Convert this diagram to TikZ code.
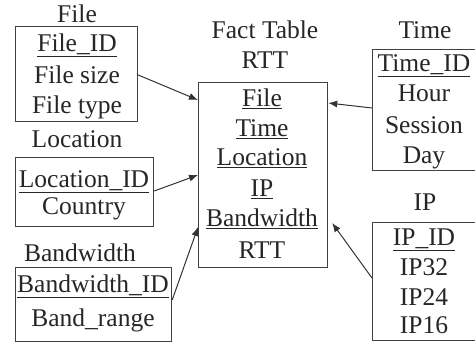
\documentclass[tikz,border=0pt]{standalone}
\usepackage{fontspec}
\setmainfont{Liberation Serif}
\usetikzlibrary{arrows.meta,calc}
\begin{document}
\begin{tikzpicture}[x=1pt,y=-1pt,
  txt/.style={font=\fontsize{25.5}{30}\selectfont, inner sep=0pt, text height=19pt, text depth=2pt, text=black!85},
  tbl/.style={draw=black!75, line width=1.2pt, inner sep=0pt, anchor=north west},
  link/.style={draw=black!80, line width=1pt, -{Latex[length=9pt,width=7pt]}}]
\useasboundingbox (0,0) rectangle (475,347);
% File
\node[txt] (tfile) at (77,14) {File};
\node[tbl, minimum width=122pt, minimum height=95pt] (file) at (15,26) {};
\node[txt] (f1) at (77,43) {\underline{File\_ID}};
\node[txt] (f2) at (77,75) {File size};
\node[txt] (f3) at (77,105) {File type};
% Location
\node[txt] (tloc) at (77,139) {Location};
\node[tbl, minimum width=138pt, minimum height=69pt] (loc) at (15,157) {};
\node[txt] (l1) at (84,179) {\underline{Location\_ID}};
\node[txt] (l2) at (84,206) {Country};
% Bandwidth
\node[txt] (tband) at (80,253) {Bandwidth};
\node[tbl, minimum width=156pt, minimum height=74pt] (band) at (15,267) {};
\node[txt] (b1) at (93,284) {\underline{Bandwidth\_ID}};
\node[txt] (b2) at (93,318) {Band\_range};
% Fact
\node[txt] (tfact1) at (265,30) {Fact Table};
\node[txt] (tfact2) at (265,60) {RTT};
\node[tbl, minimum width=129pt, minimum height=185pt] (fact) at (198,82) {};
\node[txt] (r1) at (262,98) {\underline{File}};
\node[txt] (r2) at (262,128) {\underline{Time}};
\node[txt] (r3) at (262,157) {\underline{Location}};
\node[txt] (r4) at (262,188) {\underline{IP}};
\node[txt] (r5) at (262,218) {\underline{Bandwidth}};
\node[txt] (r6) at (262,250) {RTT};
% Time
\node[txt] (ttime) at (425,30) {Time};
\node[tbl, minimum width=104pt, minimum height=121pt] (time) at (372,49) {};
\node[txt] (t1) at (424,63) {\underline{Time\_ID}};
\node[txt] (t2) at (424,93) {Hour};
\node[txt] (t3) at (424,125) {Session};
\node[txt] (t4) at (424,155) {Day};
% IP
\node[txt] (tip) at (425,202) {IP};
\node[tbl, minimum width=104pt, minimum height=118pt] (ip) at (372,222) {};
\node[txt] (i1) at (424,237) {\underline{IP\_ID}};
\node[txt] (i2) at (424,267) {IP32};
\node[txt] (i3) at (424,297) {IP24};
\node[txt] (i4) at (424,325) {IP16};
% connector end points
\coordinate (fileout) at ($(file.north east)+(0,49)$);
\coordinate (filein) at ($(fact.north west)+(0,18)$);
\coordinate (locout) at ($(loc.north east)+(0,34)$);
\coordinate (locin) at ($(fact.north west)+(0,93)$);
\coordinate (bandout) at ($(band.north east)+(0,33)$);
\coordinate (bandin) at ($(fact.north west)+(0,145)$);
\coordinate (timeout) at ($(time.north west)+(0,59)$);
\coordinate (timein) at ($(fact.north east)+(0,21)$);
\coordinate (ipout) at ($(ip.north west)+(0,56)$);
\coordinate (ipin) at ($(fact.north east)+(4,141)$);
\draw[link] (fileout) -- (filein);
\draw[link] (locout) -- (locin);
\draw[link] (bandout) -- (bandin);
\draw[link] (timeout) -- (timein);
\draw[link] (ipout) -- (ipin);
\end{tikzpicture}
\end{document}
